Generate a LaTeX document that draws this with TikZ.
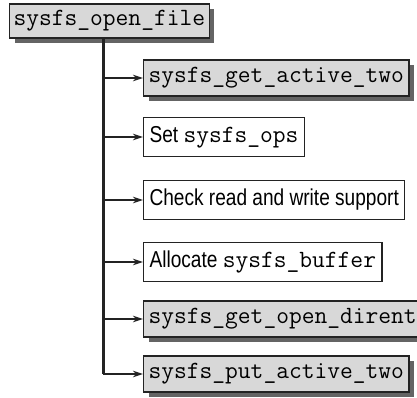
\documentclass[tikz,border=0pt]{standalone}
\usepackage{fontspec}
\setmainfont{Liberation Sans}[FakeStretch=0.83]
\usetikzlibrary{arrows.meta,shadows}
\definecolor{boxgray}{RGB}{216,216,216}
\definecolor{shadowgray}{RGB}{100,100,100}
\definecolor{linedark}{RGB}{35,35,35}
\newcommand{\code}[1]{{\ttfamily\fontsize{24.8}{27}\selectfont #1}}
\tikzset{
  callbox/.style={
    draw=linedark, line width=1.1pt, fill=boxgray, anchor=west,
    minimum height=36pt, inner xsep=5pt, inner ysep=2pt,
    drop shadow={shadow xshift=5pt, shadow yshift=-5pt, fill=shadowgray, opacity=1}
  },
  stepbox/.style={
    draw=linedark, line width=1.1pt, fill=white, anchor=west,
    minimum height=39pt, inner xsep=6pt, inner ysep=2pt,
    font=\fontsize{23}{26}\selectfont
  },
  spineline/.style={line width=3pt, draw=linedark},
  branch/.style={-{Stealth[length=10pt,width=6.5pt]}, line width=1.2pt, draw=linedark}
}
\begin{document}
\begin{tikzpicture}[x=1pt,y=-1pt]
  \useasboundingbox (0,0) rectangle (417,398);
  % Caller
  \node[callbox, minimum height=34pt, inner xsep=4pt] (open) at (9,21) {\code{sysfs\_open\_file}};
  \coordinate (spine) at (103,0);

  % Steps taken by the caller
  \node[callbox] (getactive) at (143,78) {\code{sysfs\_get\_active\_two}};
  \node[stepbox] (setops) at (143,137) {Set \code{sysfs\_ops}};
  \node[stepbox] (check) at (143,200) {Check read and write support};
  \node[stepbox] (alloc) at (143,262) {Allocate \code{sysfs\_buffer}};
  \node[callbox] (getdirent) at (143,319) {\code{sysfs\_get\_open\_dirent}};
  \node[callbox] (putactive) at (143,374) {\code{sysfs\_put\_active\_two}};

  % Spine and branches
  \draw[spineline] (open.south -| spine) -- (spine |- putactive.west);
  \foreach \n in {getactive,setops,check,alloc,getdirent,putactive}
    \draw[branch] (spine |- \n.west) -- (\n.west);
\end{tikzpicture}
\end{document}
